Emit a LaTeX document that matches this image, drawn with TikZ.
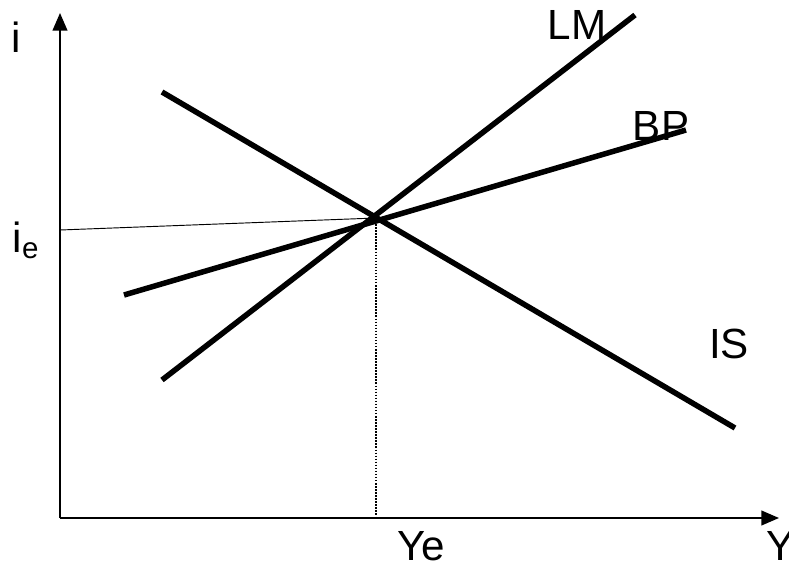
\documentclass[tikz,border=0pt]{standalone}
\usepackage{fontspec}
\setmainfont{Liberation Sans}
\usetikzlibrary{arrows.meta}

\begin{document}
\begin{tikzpicture}[
  x=0.3mm, y=-0.3mm,
  axisline/.style={line width=1.7pt, -{Triangle[length=15pt,width=12.5pt]}},
  curveline/.style={line width=4.7pt},
  guideline/.style={line width=0.8pt},
  lbl/.style={font=\fontsize{36}{42}\selectfont, inner sep=0pt},
]
  \useasboundingbox (0,0) rectangle (789,563);

  % axes
  \coordinate (O) at (60,518);
  \coordinate (itop) at (60,13);
  \coordinate (yend) at (779,518);
  \draw[axisline] (O) -- (itop);
  \draw[axisline] (O) -- (yend);

  % curve end points
  \coordinate (is1) at (162,92);
  \coordinate (is2) at (735,428);
  \coordinate (lm1) at (162,380);
  \coordinate (lm2) at (635,15);
  \coordinate (bp1) at (124,295);
  \coordinate (bp2) at (686,130);
  \coordinate (E) at (376,218);
  \coordinate (ie) at (60,230);
  \coordinate (Ye) at (376,518);

  \draw[curveline] (is1) -- (is2);
  \draw[curveline] (lm1) -- (lm2);
  \draw[curveline] (bp1) -- (bp2);

  % equilibrium guides
  \draw[guideline] (ie) -- (E);
  \draw[line width=1.3pt, dash pattern=on 1.3pt off 1.3pt] (E) -- (Ye);

  % labels
  \node[lbl] (ilabel) at (16,37) {i};
  \node[lbl] (ielabel) at (26,240) {i\textsubscript{e}};
  \node[lbl] (yelabel) at (421,546) {Ye};
  \node[lbl, anchor=west] (ylabel) at (766,546) {Y};
  \node[lbl] (lmlabel) at (577,25) {LM};
  \node[lbl] (bplabel) at (661,126) {BP};
  \node[lbl] (islabel) at (729,344) {IS};
\end{tikzpicture}
\end{document}
